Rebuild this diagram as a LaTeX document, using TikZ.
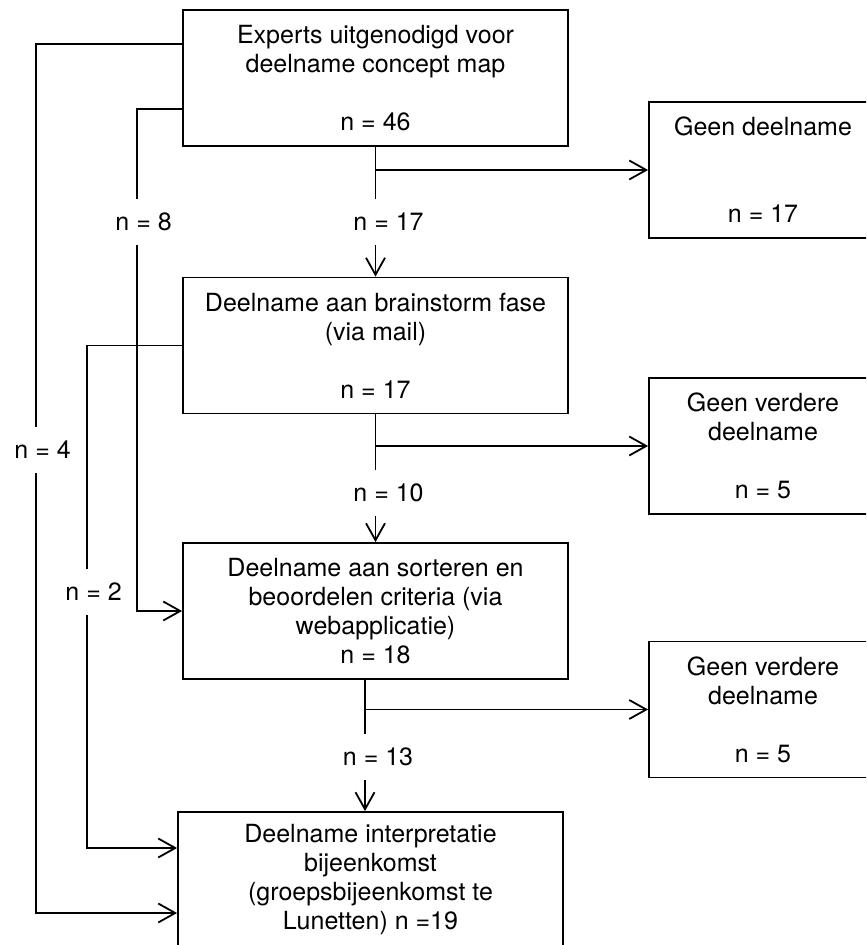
\documentclass[tikz,border=0pt]{standalone}
\usepackage{fontspec}
\setmainfont{TeX Gyre Heros}
\usetikzlibrary{arrows.meta, positioning, calc}

\begin{document}
\begin{tikzpicture}[x=0.5pt, y=-0.5pt, every node/.style={font=\fontsize{12.5pt}{14.5pt}\selectfont}]
  \tikzstyle{box}=[rectangle, draw, line width=0.9pt, minimum width=192.5pt, minimum height=68pt, inner sep=0pt, align=center]
  \tikzstyle{sidebox}=[box, minimum width=114pt]
  \tikzstyle{arrow}=[-{Straight Barb[length=8.5pt, width=9.5pt]}, line width=0.9pt]
  \tikzstyle{count}=[fill=white, inner xsep=0pt, inner ysep=0pt, minimum height=23pt, anchor=west]

  \useasboundingbox (0,0) rectangle (866,945);
  \clip (0,0) rectangle (866,945);

  % main stages
  \node[box] (experts) at (375.5,78) {Experts uitgenodigd voor\\deelname concept map\\[14.5pt]n = 46};
  \node[box] (brainstorm) at (375.5,345.5) {Deelname aan brainstorm fase\\(via mail)\\[14.5pt]n = 17};
  \node[box] (sorteren) at (375.5,611) {Deelname aan sorteren en\\beoordelen criteria (via\\webapplicatie)\\n = 18};
  \node[box] (interpretatie) at (370.5,880) {Deelname interpretatie\\bijeenkomst\\(groepsbijeenkomst te\\Lunetten) n =19};

  % drop-outs
  \node[sidebox] (nodeel) at (763,170) {Geen deelname\\[29pt]n = 17};
  \node[sidebox] (geenverder1) at (763,446) {Geen verdere\\deelname\\[14.5pt]n = 5};
  \node[sidebox] (geenverder2) at (763,709.5) {Geen verdere\\deelname\\[14.5pt]n = 5};

  % skip lines on the left
  \draw[arrow] ([yshift=17pt]experts.west) -- ++(-73pt,0) |- ([yshift=-16.5pt]interpretatie.west);
  \draw[arrow] ([yshift=-15.5pt]experts.west) -- ++(-22.5pt,0) |- (sorteren.west);
  \draw[arrow] (brainstorm.west) -- ++(-47.5pt,0) |- ([yshift=16pt]interpretatie.west);
  \node[count] (n4) at (14,450) {n = 4};
  \node[count] (n8) at (115,222) {n = 8};
  \node[count] (n2) at (65,592) {n = 2};

  % main flow
  \draw[arrow] (experts.south) -- node[count, pos=0.576, xshift=-11.5pt]{n = 17} (brainstorm.north);
  \draw[arrow] (brainstorm.south) -- node[count, pos=0.615, xshift=-11.5pt]{n = 10} (sorteren.north);
  \draw[arrow] ([xshift=-5.25pt]sorteren.south) -- node[count, pos=0.586, xshift=-11.5pt]{n = 13} ([xshift=-5.25pt]sorteren.south |- interpretatie.north);

  \draw[arrow] (experts.south |- nodeel.west) -- (nodeel.west);
  \draw[arrow] (brainstorm.south |- geenverder1.west) -- (geenverder1.west);
  \draw[arrow] ([xshift=-5.25pt]sorteren.south |- geenverder2.west) -- (geenverder2.west);
\end{tikzpicture}
\end{document}
